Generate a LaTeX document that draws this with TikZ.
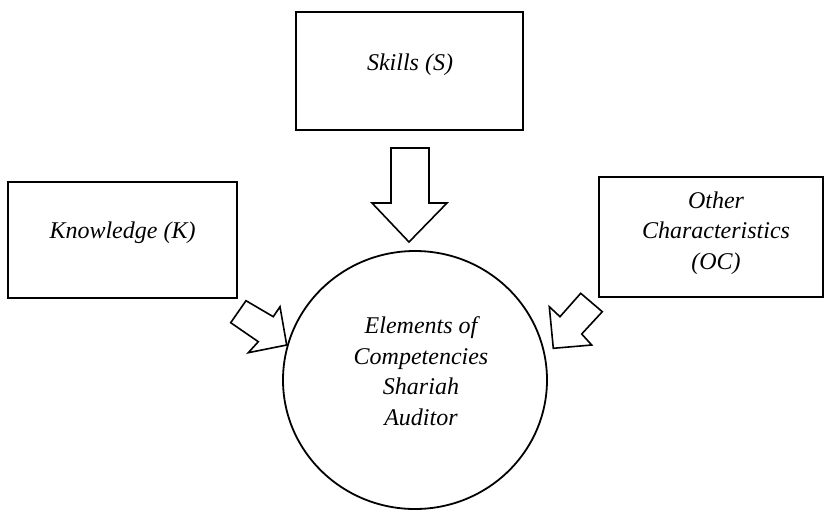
\documentclass[tikz,border=0pt]{standalone}
\usepackage{fontspec}
\setmainfont{Liberation Serif}
\usetikzlibrary{shapes.geometric}
\begin{document}
\begin{tikzpicture}[x=1pt,y=-1pt,
  box/.style={draw, line width=2.2pt, inner sep=0pt},
  lbl/.style={font=\fontsize{24}{30.5}\selectfont\itshape, align=center, inner sep=0pt},
  blockarrow/.style={draw, line width=1.6pt, line join=miter, fill=white}]
\useasboundingbox (0,0) rectangle (825,512);
% boxes
\node[box, minimum width=227pt, minimum height=118pt] (skills) at (409.5,71) {};
\node[box, minimum width=229pt, minimum height=116pt] (know) at (122.5,240) {};
\node[box, minimum width=224pt, minimum height=120pt] (oc) at (711,237) {};
\node[draw, ellipse, line width=1.8pt, minimum width=264pt, minimum height=258pt, inner sep=0pt] (comp) at (415,380) {};
% labels
\node[lbl] (tS) at (410,65) {Skills (S)};
\node[lbl] (tK) at (122.5,233) {Knowledge (K)};
\node[lbl] (tOC) at (716,233) {Other\\Characteristics\\(OC)};
\node[lbl] (tC) at (421,371) {Elements of\\Competencies\\Shariah\\Auditor};
% block arrows
\draw[blockarrow] (391,148) -- (429,148) -- (429,203) -- (447,203) -- (409,242) -- (372,203) -- (391,203) -- cycle;
\draw[blockarrow] (246,300.7) -- (273.3,316.7) -- (280,306.7) -- (286.7,345) -- (248.3,352.7) -- (258.3,341.7) -- (230.7,322.7) -- cycle;
\draw[blockarrow] (580.7,293.3) -- (602.3,311.7) -- (581.7,334) -- (591.7,345) -- (553.3,348.3) -- (549.3,306.7) -- (560,316.7) -- cycle;
\end{tikzpicture}
\end{document}
